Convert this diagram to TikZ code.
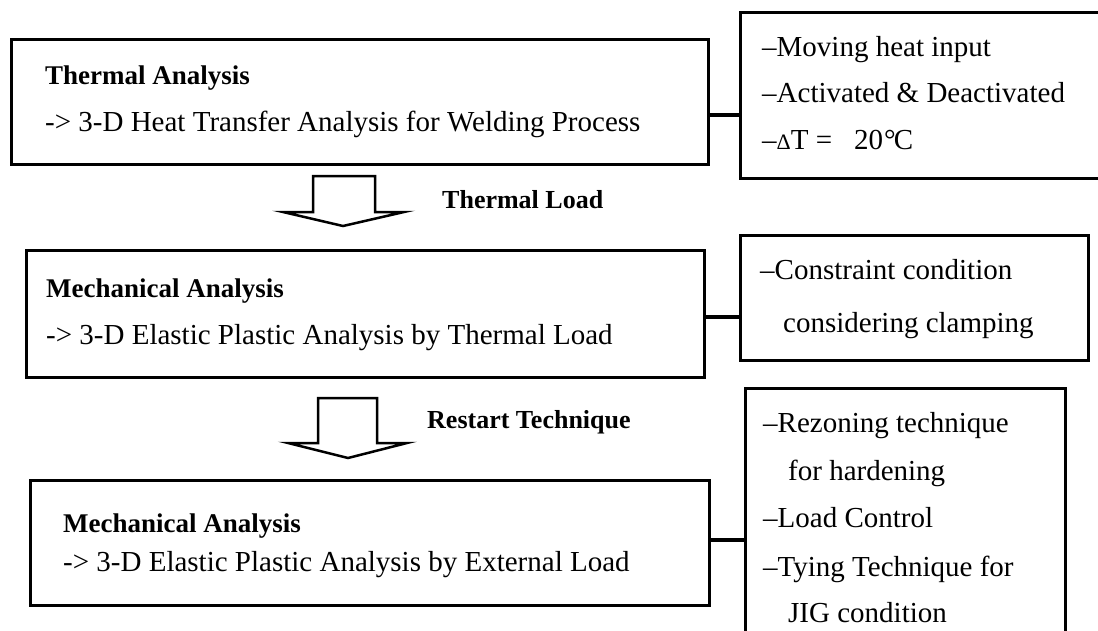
\documentclass[tikz,border=0pt]{standalone}
\usepackage{fontspec}
\setmainfont{Liberation Serif}
\usepackage{tikz}

\begin{document}
\begin{tikzpicture}[x=1pt, y=-1pt,
        box/.style={draw=black, line width=3pt, rectangle, anchor=north west, inner sep=0pt},
        conn/.style={black, line width=3.5pt},
        hollow/.style={draw=black, fill=white, line width=2.5pt, line join=miter},
        head/.style={anchor=base west, inner sep=0pt, font=\fontsize{27}{32}\selectfont\bfseries},
        body/.style={anchor=base west, inner sep=0pt, font=\fontsize{29}{35}\selectfont},
        lbl/.style={anchor=west, inner sep=0pt, font=\fontsize{26}{31}\selectfont\bfseries}]
        \useasboundingbox (0,0) rectangle (1098,630);

        % left column
        \node[box, minimum width=697pt, minimum height=125pt] (thermal) at (10,38) {};
        \node[box, minimum width=678pt, minimum height=127pt] (mech) at (25,249) {};
        \node[box, minimum width=679pt, minimum height=125pt] (ext) at (29,479) {};

        \node[head] (thermalT) at (45,84) {Thermal Analysis};
        \node[body] (thermalB) at (45,131) {-> 3-D Heat Transfer Analysis for Welding Process};
        \node[head] (mechT) at (46,297) {Mechanical Analysis};
        \node[body] (mechB) at (46,344) {-> 3-D Elastic Plastic Analysis by Thermal Load};
        \node[head] (extT) at (63,532) {Mechanical Analysis};
        \node[body] (extB) at (63,571) {-> 3-D Elastic Plastic Analysis by External Load};

        % right column
        \node[box, minimum width=380pt, minimum height=166pt] (heat) at (739,11) {};
        \node[box, minimum width=348pt, minimum height=125pt] (clamp) at (739,234) {};
        \node[box, minimum width=320pt, minimum height=260pt] (rezone) at (744,387) {};

        \node[body] (heat1) at (762,56) {–Moving heat input};
        \node[body] (heat2) at (762,102) {–Activated \& Deactivated};
        \node[body] (heat3) at (762,149) {–{\fontsize{22}{26}\selectfont Δ}T =\hspace{22pt}20\kern1pt°\kern-2pt C};
        \node[body] (clamp1) at (760,279) {–Constraint condition};
        \node[body] (clamp2) at (783,332) {considering clamping};
        \node[body] (rezone1) at (763,432) {–Rezoning technique};
        \node[body] (rezone2) at (788,480) {for hardening};
        \node[body] (rezone3) at (763,527) {–Load Control};
        \node[body] (rezone4) at (763,576) {–Tying Technique for};
        \node[body] (rezone5) at (788,622) {JIG condition};

        % links
        \coordinate (l1) at (0,115);
        \coordinate (l2) at (0,317);
        \coordinate (l3) at (0,540);
        \draw[conn] (thermal.east |- l1) -- (heat.west |- l1);
        \draw[conn] (mech.east |- l2) -- (clamp.west |- l2);
        \draw[conn] (ext.east |- l3) -- (rezone.west |- l3);

        % block arrows
        \draw[hollow] (313,176) -- (375,176) -- (375,212) -- (404,212) -- (343,226) -- (283,212) -- (313,212) -- cycle;
        \draw[hollow] (318,398) -- (377,398) -- (377,443) -- (407,443) -- (348,458) -- (288,443) -- (318,443) -- cycle;

        \node[lbl] (load) at (442,200) {Thermal Load};
        \node[lbl] (restart) at (427,422) {Restart Technique};
\end{tikzpicture}
\end{document}
